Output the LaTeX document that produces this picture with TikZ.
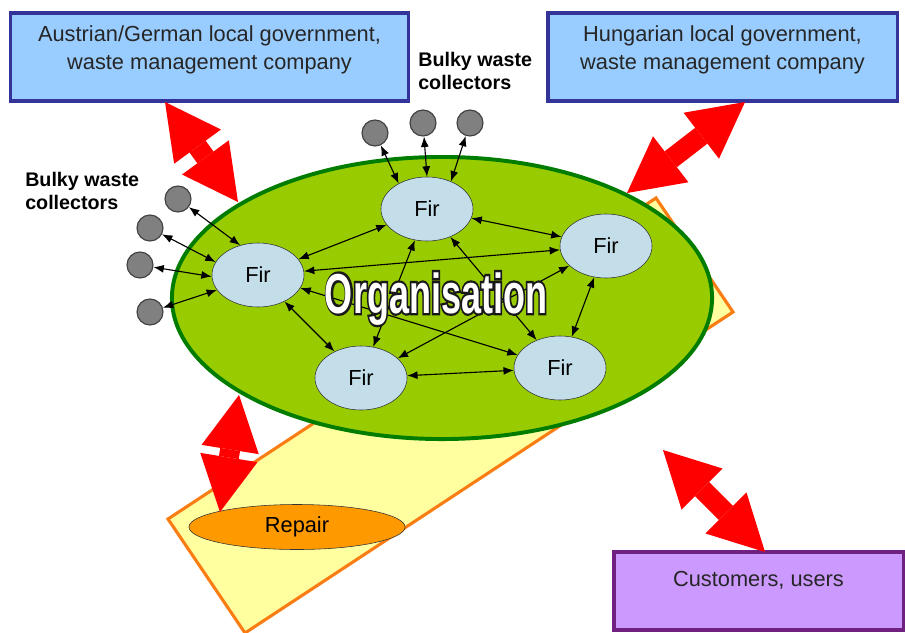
\documentclass[tikz,border=0pt]{standalone}
\usepackage{fontspec}
\setmainfont{Liberation Sans}
\usetikzlibrary{shapes.geometric,arrows.meta}
\definecolor{boxblue}{RGB}{153,204,255}
\definecolor{boxline}{RGB}{51,51,153}
\definecolor{custfill}{RGB}{204,153,255}
\definecolor{custline}{RGB}{112,32,128}
\definecolor{padfill}{RGB}{255,255,160}
\definecolor{padline}{RGB}{250,125,20}
\definecolor{orggreen}{RGB}{153,204,0}
\definecolor{orgline}{RGB}{0,125,0}
\definecolor{firblue}{RGB}{195,222,232}
\definecolor{repfill}{RGB}{255,153,0}
\tikzstyle{govbox}=[draw=boxline,fill=boxblue,line width=2.2pt,align=center,
  inner sep=0pt,minimum height=2.2cm,text=black!85,
  font=\fontsize{15.5}{20.6}\selectfont,text depth=.47cm]
\tikzstyle{custbox}=[govbox,draw=custline,fill=custfill,minimum height=1.95cm,
  text depth=.63cm]
\tikzstyle{fir}=[draw=black!80,ellipse,fill=firblue,inner sep=0pt,
  minimum width=2.3cm,minimum height=1.6cm,font=\fontsize{15.5}{18}\selectfont]
\tikzstyle{coll}=[draw=black!75,circle,fill=gray,minimum size=.65cm,
  inner sep=0pt,line width=.8pt]
\tikzstyle{bulky}=[align=left,inner sep=0pt,anchor=west,
  font=\fontsize{14}{16.5}\selectfont\bfseries]
\tikzstyle{link}=[{Latex[length=.26cm,width=.2cm]}-{Latex[length=.26cm,width=.2cm]},
  line width=.8pt]
\tikzstyle{bigarrow}=[red,line width=.5cm,
  {Triangle[length=1.38cm,width=1.45cm,line width=0pt]}-{Triangle[length=1.38cm,width=1.45cm,line width=0pt]}]
\newcommand\orgword{\scalebox{.64}[1]{\fontsize{40}{40}\selectfont\bfseries Organisation}}
% dark stroke under the white letters
\newcommand\orgstroke{\textcolor{white}{\special{pdf:literal direct 0.1 G 2 Tr 3.4 w}%
  \orgword\special{pdf:literal direct 0 Tr}}}

\begin{document}
\begin{tikzpicture}[x=.025cm,y=-.025cm]
  \fill[white] (0,0) rectangle (905,632);
  \useasboundingbox (0,0) rectangle (905,632);

  % pad behind the organisation
  \draw[draw=padline,fill=padfill,line width=2.2pt]
    (656,198) -- (733,312) -- (245,633) -- (168,519) -- cycle;
  \node[ellipse,draw=orgline,fill=orggreen,line width=2.8pt,
    minimum width=13.5cm,minimum height=7.05cm] (orga) at (442,298) {};

  \node[fir] (fT) at (427,209) {Fir};
  \node[fir] (fL) at (258,275) {Fir};
  \node[fir] (fR) at (606,246) {Fir};
  \node[fir] (fBL) at (361,378) {Fir};
  \node[fir] (fBR) at (560,368) {Fir};

  \node[coll] (c1) at (375,133) {};
  \node[coll] (c2) at (423,123) {};
  \node[coll] (c3) at (470,123) {};
  \node[coll] (c4) at (178,199) {};
  \node[coll] (c5) at (150,228) {};
  \node[coll] (c6) at (140,265) {};
  \node[coll] (c7) at (150,312) {};

  \node[bulky] (bw1) at (418,71) {Bulky waste\\collectors};
  \node[bulky] (bw2) at (25,191) {Bulky waste\\collectors};

  \draw[link] (c1) -- (fT.138);
  \draw[link] (c2) -- (fT.90);
  \draw[link] (c3) -- (fT.49);
  \draw[link] (c4) -- (fL.121);
  \draw[link] (c5) -- (fL.163);
  \draw[link] (c6) -- (fL.182);
  \draw[link] (c7) -- (fL.200);
  \draw[link] (fL) edge (fT) edge (fR) edge (fBL) edge (fBR)
    (fT) edge (fR) edge (fBL) edge (fBR)
    (fR) edge (fBL) edge (fBR)
    (fBL) edge (fBR);

  \node[anchor=base] (orgsh) at (436,313) {\orgstroke};
  \node[anchor=base,text=white] (org) at (436,313) {\orgword};

  \node[ellipse,draw=black!80,fill=repfill,inner sep=0pt,minimum width=5.4cm,
    minimum height=1.125cm,font=\fontsize{15.5}{18}\selectfont] (rep) at (297,527) {Repair};

  \node[govbox,minimum width=9.925cm] (aut) at (209.5,57)
    {Austrian/German local government,\\waste management company};
  \node[govbox,minimum width=8.725cm] (hun) at (722.5,57)
    {Hungarian local government,\\waste management company};
  \node[custbox,minimum width=7.225cm] (cust) at (758.5,591) {Customers, users};

  \coordinate (a1s) at (165,102);
  \coordinate (a1e) at (238,202);
  \coordinate (a2s) at (745,102);
  \coordinate (a2e) at (627,193);
  \coordinate (a3s) at (239,395);
  \coordinate (a3e) at (220,512);
  \coordinate (a4s) at (663,450);
  \coordinate (a4e) at (765,552);
  \draw[bigarrow] (a1s) -- (a1e);
  \draw[bigarrow] (a2s) -- (a2e);
  \draw[bigarrow] (a3s) -- (a3e);
  \draw[bigarrow] (a4s) -- (a4e);
\end{tikzpicture}
\end{document}
